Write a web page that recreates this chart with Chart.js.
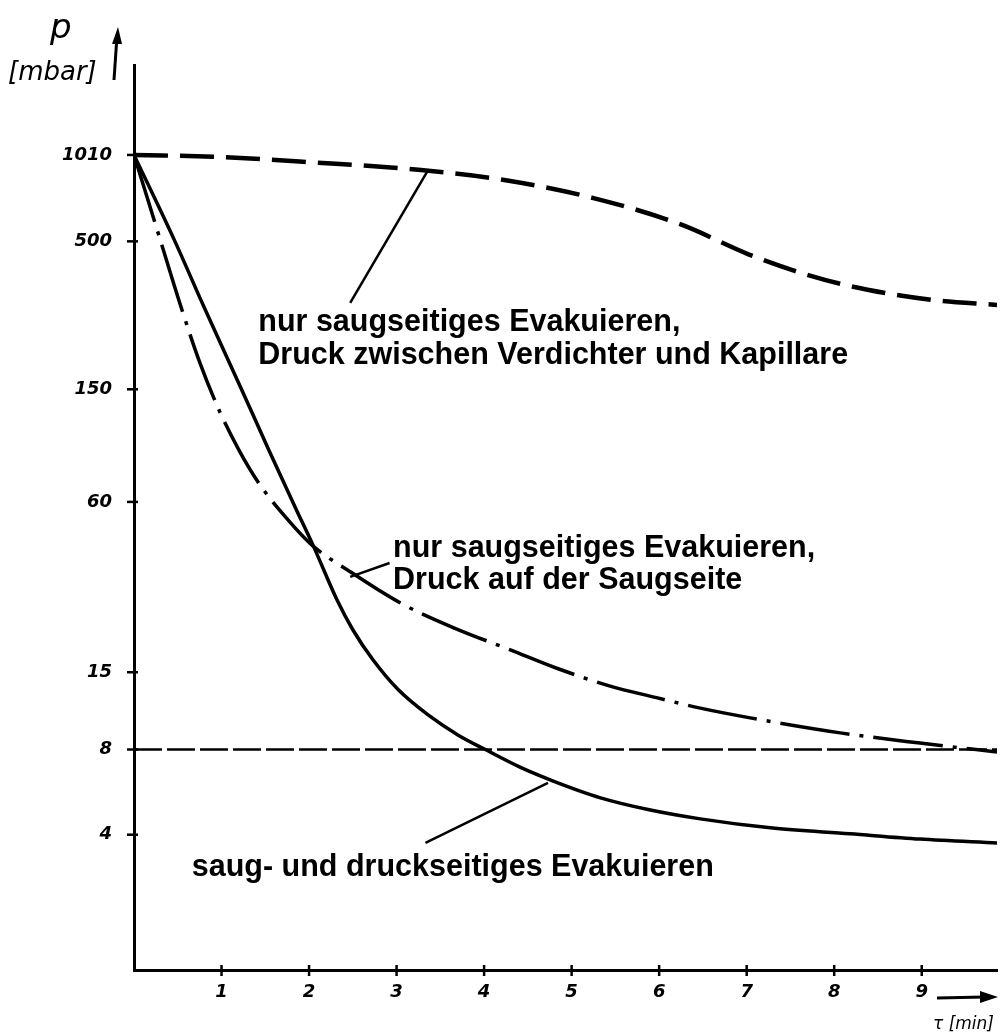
<!DOCTYPE html>
<html>
<head>
<meta charset="utf-8">
<script src="https://cdn.jsdelivr.net/npm/chart.js@4.4.1/dist/chart.umd.min.js"></script>
<style>
  html, body { margin: 0; padding: 0; background: #fff; }
  #wrap { width: 1000px; height: 1033px; }
</style>
</head>
<body>
<div id="wrap"><canvas id="chart" width="1000" height="1033"></canvas></div>
<script>
// Achsen
const timeTicks = [1, 2, 3, 4, 5, 6, 7, 8, 9];
const pressureTicks = [4, 8, 15, 60, 150, 500, 1010];

// nur saugseitiges Evakuieren, Druck zwischen Verdichter und Kapillare (gestrichelt)
const tKapillare = [0, 1, 2, 3.28, 4.23, 5.25, 6.24, 7.02, 7.54, 8.1, 8.64, 9.14, 9.86];
const pKapillare = [1010, 993, 953, 893, 824, 711, 575, 450, 394, 352, 326, 310, 298];

// nur saugseitiges Evakuieren, Druck auf der Saugseite (strichpunktiert)
const tSaugseite = [0, 0.3, 0.53, 0.75, 0.98, 1.21, 1.44, 1.73, 2.03, 2.47, 3.04, 3.66, 4.3, 4.83, 5.44, 5.97, 6.47, 7.04, 8.07, 8.98, 9.86];
const pSaugseite = [1010, 506, 298, 187, 125, 90.2, 68.9, 53.1, 42.3, 34.0, 26.4, 21.5, 18.0, 15.5, 13.4, 12.2, 11.2, 10.35, 9.16, 8.43, 7.84];

// saug- und druckseitiges Evakuieren (durchgezogen)
const tBeidseitig = [0, 0.46, 0.8, 1.22, 1.54, 1.84, 2.06, 2.32, 2.5, 2.73, 3.02, 3.36, 3.7, 4.02, 4.41, 4.79, 5.33, 5.9, 6.47, 7.27, 8.18, 8.98, 9.86];
const pBeidseitig = [1010, 506, 293, 152, 91.6, 57.6, 41.2, 27.0, 21.2, 16.6, 13.0, 10.6, 9.01, 7.98, 6.93, 6.19, 5.4, 4.89, 4.55, 4.23, 4.03, 3.86, 3.74];

// waagerechte Linie bei 8 mbar
const tGrenze = [0, 9.86];
const pGrenze = [8, 8];

function toPoints(ts, ps) {
    return ts.map((t, i) => ({ x: t, y: ps[i] }));
}

// Beschriftungen (Position in Datenkoordinaten)
const labels = [
    { t: 1.42, lines: [[259, 'nur saugseitiges Evakuieren,'], [198, 'Druck zwischen Verdichter und Kapillare']] },
    { t: 2.96, lines: [[41.2, 'nur saugseitiges Evakuieren,'], [31.5, 'Druck auf der Saugseite']] },
    { t: 0.66, lines: [[3.05, 'saug- und druckseitiges Evakuieren']] }
];
const leaders = [
    [2.47, 303, 3.36, 893],
    [2.47, 32.6, 2.92, 36.5],
    [3.33, 3.74, 4.73, 6.1]
];

const annotations = {
    id: 'annotations',
    afterDraw(chart) {
        const ctx = chart.ctx;
        const xs = chart.scales.x, ys = chart.scales.y;
        const area = chart.chartArea;
        ctx.save();
        ctx.strokeStyle = '#000';
        ctx.fillStyle = '#000';

        // Teilstriche
        ctx.lineWidth = 2.5;
        pressureTicks.forEach(v => {
            const y = ys.getPixelForValue(v);
            ctx.beginPath();
            ctx.moveTo(area.left - 7, y);
            ctx.lineTo(area.left + 4, y);
            ctx.stroke();
        });
        timeTicks.forEach(v => {
            const x = xs.getPixelForValue(v);
            ctx.beginPath();
            ctx.moveTo(x, area.bottom - 5);
            ctx.lineTo(x, area.bottom + 6);
            ctx.stroke();
        });

        // Hinweislinien
        ctx.lineWidth = 2.5;
        leaders.forEach(l => {
            ctx.beginPath();
            ctx.moveTo(xs.getPixelForValue(l[0]), ys.getPixelForValue(l[1]));
            ctx.lineTo(xs.getPixelForValue(l[2]), ys.getPixelForValue(l[3]));
            ctx.stroke();
        });

        // Kurvenbeschriftung
        ctx.font = 'bold 30.5px "Liberation Sans", Arial, sans-serif';
        ctx.textAlign = 'left';
        ctx.textBaseline = 'middle';
        labels.forEach(lb => {
            const x = xs.getPixelForValue(lb.t);
            lb.lines.forEach(([p, txt]) => ctx.fillText(txt, x, ys.getPixelForValue(p)));
        });

        // Achsentitel p [mbar] mit Pfeil
        ctx.font = 'italic 34px "DejaVu Sans", sans-serif';
        ctx.textBaseline = 'alphabetic';
        ctx.fillText('p', 50, 38);
        ctx.font = 'italic 26px "DejaVu Sans", sans-serif';
        ctx.fillText('[mbar]', 8, 80);
        ctx.lineWidth = 3;
        ctx.beginPath();
        ctx.moveTo(114, 80);
        ctx.lineTo(117, 36);
        ctx.stroke();
        ctx.beginPath();
        ctx.moveTo(118, 27);
        ctx.lineTo(112, 44);
        ctx.lineTo(122, 44);
        ctx.closePath();
        ctx.fill();

        // Zeitachse tau [min] mit Pfeil
        ctx.beginPath();
        ctx.moveTo(937, 998);
        ctx.lineTo(985, 997);
        ctx.stroke();
        ctx.beginPath();
        ctx.moveTo(998, 997);
        ctx.lineTo(980, 991);
        ctx.lineTo(980, 1003);
        ctx.closePath();
        ctx.fill();
        ctx.font = 'italic 17px "DejaVu Sans", sans-serif';
        ctx.fillText('τ [min]', 933, 1029);
        ctx.restore();
    }
};

new Chart(document.getElementById('chart').getContext('2d'), {
    type: 'scatter',
    data: {
        datasets: [
            {
                data: toPoints(tKapillare, pKapillare),
                showLine: true, borderColor: '#000', borderWidth: 4.5,
                borderDash: [34, 12], pointRadius: 0, cubicInterpolationMode: 'monotone'
            },
            {
                data: toPoints(tSaugseite, pSaugseite),
                showLine: true, borderColor: '#000', borderWidth: 3.5,
                borderDash: [70, 10, 4, 10], pointRadius: 0, cubicInterpolationMode: 'monotone'
            },
            {
                data: toPoints(tBeidseitig, pBeidseitig),
                showLine: true, borderColor: '#000', borderWidth: 3.5,
                pointRadius: 0, cubicInterpolationMode: 'monotone'
            },
            {
                data: toPoints(tGrenze, pGrenze),
                showLine: true, borderColor: '#000', borderWidth: 2.5,
                borderDash: [28, 5], pointRadius: 0
            }
        ]
    },
    options: {
        responsive: false,
        animation: false,
        devicePixelRatio: 1,
        layout: { padding: { top: 65, right: 3, left: 0, bottom: 0 } },
        plugins: { legend: { display: false }, tooltip: { enabled: false } },
        scales: {
            x: {
                type: 'linear', min: 0, max: 9.86,
                afterFit: s => { s.height = 63; },
                afterBuildTicks: s => { s.ticks = timeTicks.map(v => ({ value: v })); },
                grid: { display: false, drawTicks: false },
                border: { display: true, color: '#000', width: 3 },
                ticks: {
                    color: '#000', padding: 12, maxRotation: 0,
                    font: { family: '"DejaVu Sans"', style: 'italic', weight: 'bold', size: 18 }
                }
            },
            y: {
                type: 'logarithmic', min: 1.33, max: 2100,
                afterFit: s => { s.width = 134; },
                afterBuildTicks: s => { s.ticks = pressureTicks.map(v => ({ value: v })); },
                grid: { display: false, drawTicks: false },
                border: { display: true, color: '#000', width: 3 },
                ticks: {
                    color: '#000', padding: 22,
                    font: { family: '"DejaVu Sans"', style: 'italic', weight: 'bold', size: 18 },
                    callback: v => String(v)
                }
            }
        }
    },
    plugins: [annotations]
});
</script>
</body>
</html>
